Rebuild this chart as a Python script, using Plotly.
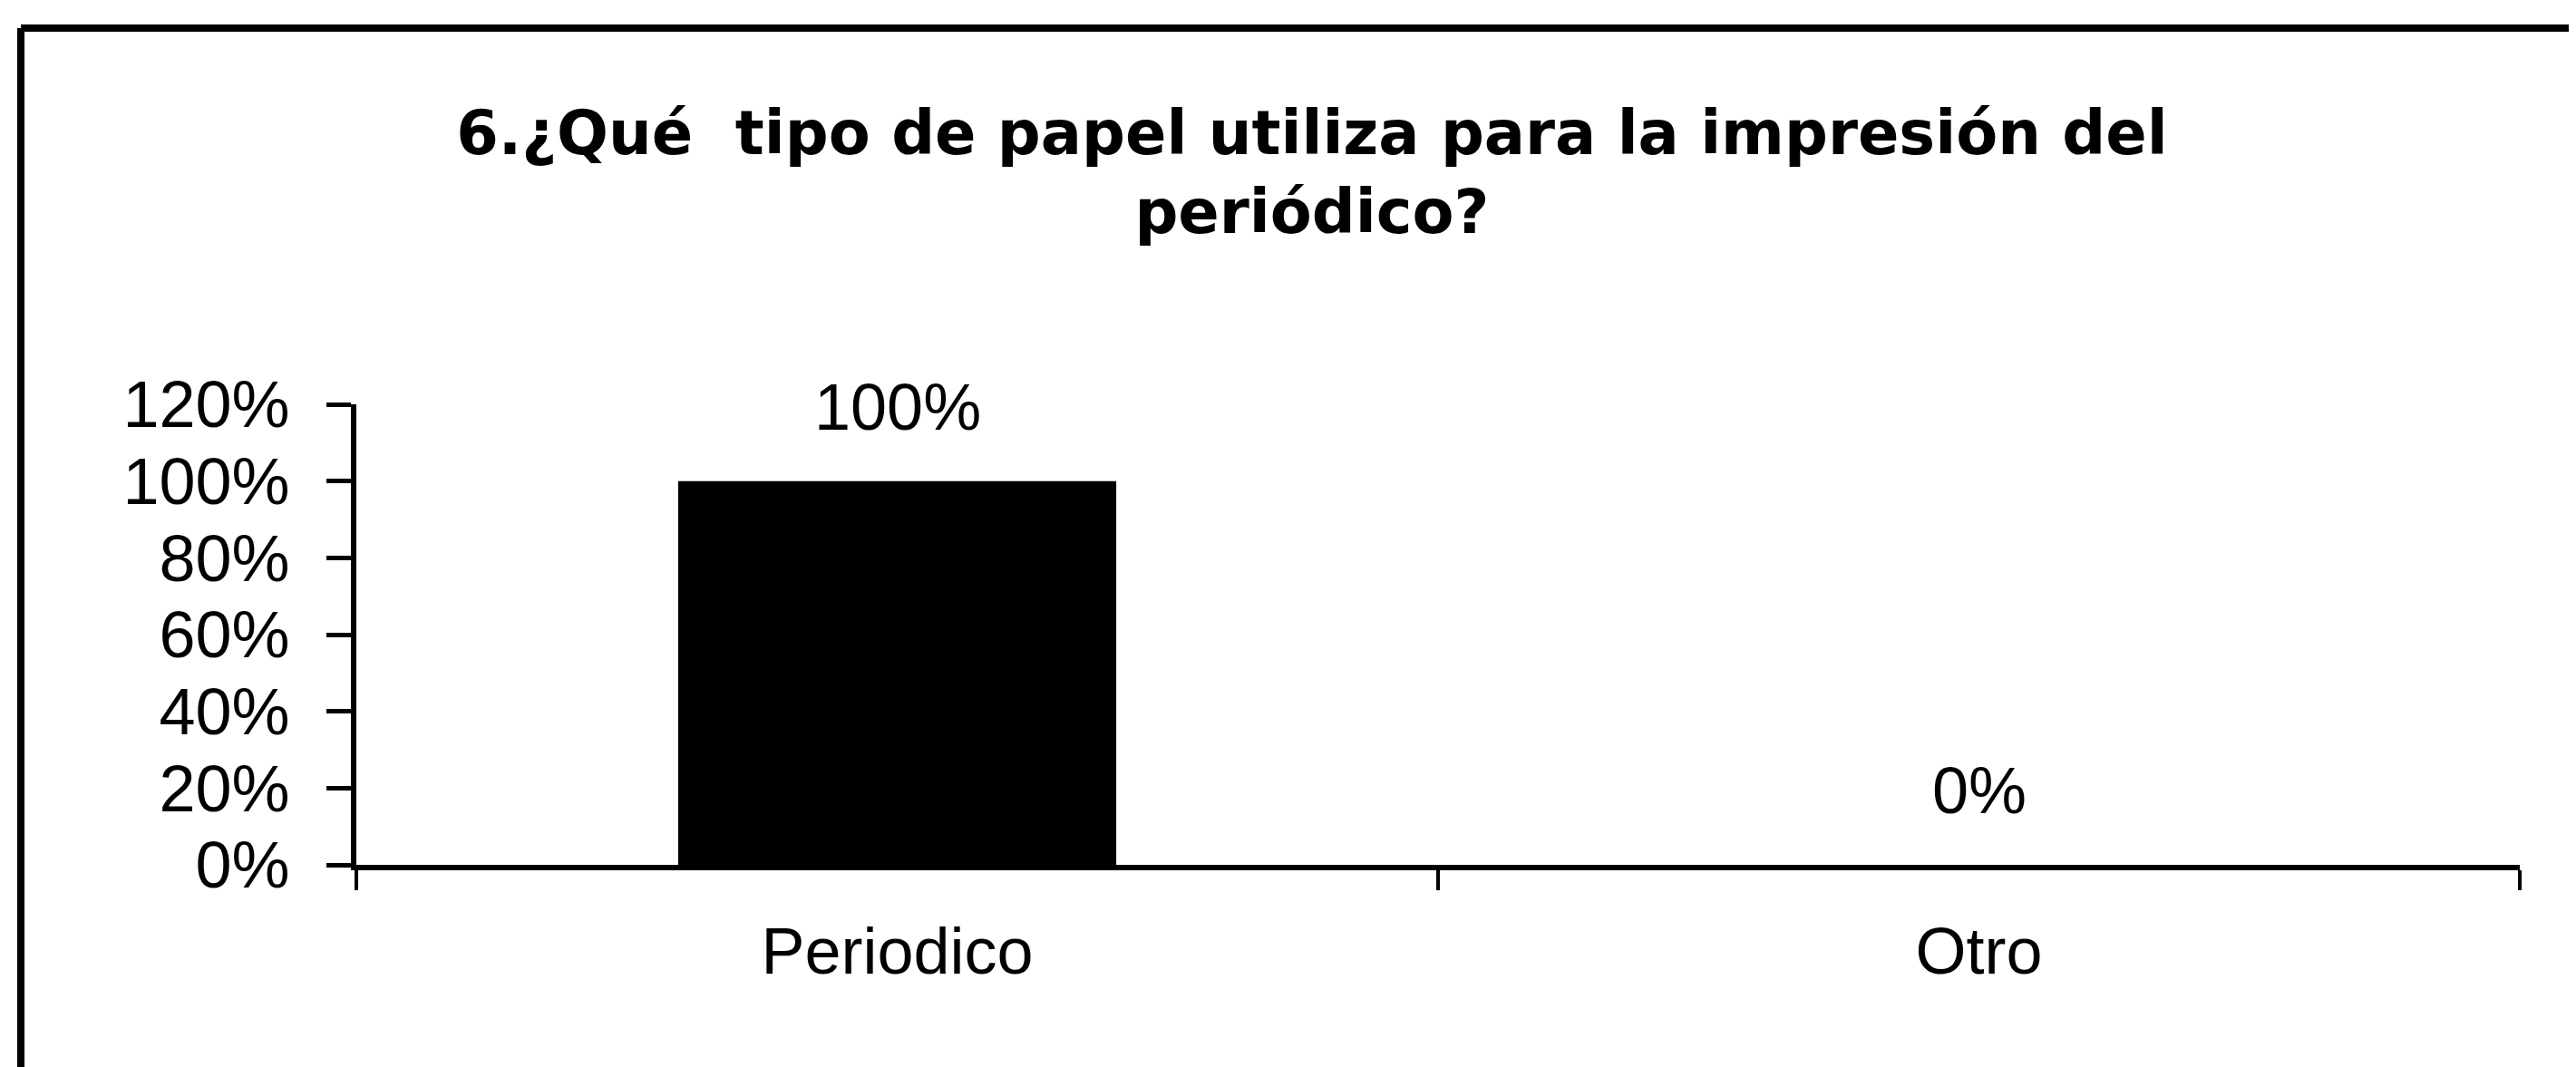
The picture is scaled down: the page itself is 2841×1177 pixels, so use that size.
import plotly.graph_objects as go

categories = ["Periodico", "Otro"]
values = [1.00, 0.00]
value_labels = ["100%", "0%"]
tick_vals = [0, 0.2, 0.4, 0.6, 0.8, 1.0, 1.2]
tick_text = ["0%", "20%", "40%", "60%", "80%", "100%", "120%"]
title_text = "6.¿Qué  tipo de papel utiliza para la impresión del<br>periódico?"

W, H = 2841, 1177
L, R, T, B = 385, 70, 438, 231

fig = go.Figure()
fig.add_trace(go.Bar(
    x=categories, y=values, marker=dict(color="black", line=dict(width=0)),
    width=0.405, showlegend=False, hoverinfo="skip",
))

for c, v, t in zip(categories, values, value_labels):
    fig.add_annotation(x=c, y=v, text=t, showarrow=False, yanchor="middle",
                       yshift=82, font=dict(family="Liberation Sans", size=72, color="black"))

fig.update_layout(
    width=W, height=H,
    margin=dict(l=L, r=R, t=T, b=B),
    paper_bgcolor="white", plot_bgcolor="white",
    title=dict(text=title_text, x=0.4417, xref="paper", xanchor="center",
               y=1 - 162 / H, yref="container", yanchor="top",
               font=dict(family="DejaVu Sans", size=67, color="black", weight="bold")),
    font=dict(family="Liberation Sans", color="black"),
)
fig.update_xaxes(
    showline=True, linecolor="black", linewidth=6,
    ticks="outside", tickson="boundaries", ticklen=22, tickwidth=4, tickcolor="black",
    tickfont=dict(size=72), ticklabelstandoff=28, showgrid=False, zeroline=False,
)
fig.update_yaxes(
    range=[0, 1.2], tickvals=tick_vals, ticktext=tick_text,
    showline=True, linecolor="black", linewidth=6,
    ticks="outside", ticklen=27, tickwidth=5, tickcolor="black",
    tickfont=dict(size=72), ticklabelstandoff=26, showgrid=False, zeroline=False,
)

# outer frame (left and top edges)
x_left = (15 - L) / (W - L - R)
y_top = (H - B - 23) / (H - T - B)
y_bot = -B / (H - T - B) - 0.01
x_right = (W - L) / (W - L - R) + 0.01
fig.add_shape(type="line", xref="paper", yref="paper", x0=x_left, x1=x_left, y0=y_bot, y1=y_top,
              line=dict(color="black", width=8))
fig.add_shape(type="line", xref="paper", yref="paper", x0=x_left, x1=x_right, y0=y_top, y1=y_top,
              line=dict(color="black", width=8))

fig.write_html("out.html")
